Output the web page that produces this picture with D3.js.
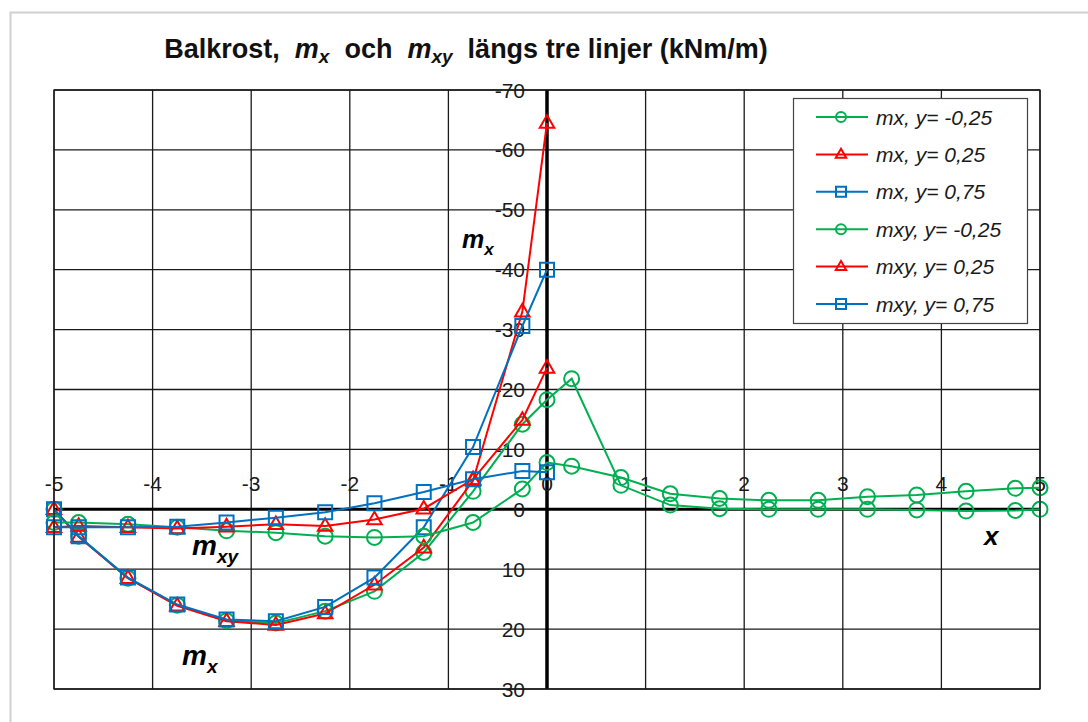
<!DOCTYPE html>
<html>
<head>
<meta charset="utf-8">
<script src="https://cdn.jsdelivr.net/npm/d3@7"></script>
<style>
  html, body { margin: 0; padding: 0; background: #fff; }
  svg { display: block; }
</style>
</head>
<body>
<svg id="chart" width="1088" height="722"></svg>
<script>
// ---- data ----
const xAll = [-5, -4.75, -4.25, -3.75, -3.25, -2.75, -2.25, -1.75, -1.25, -0.75, -0.25, 0,
              0.25, 0.75, 1.25, 1.75, 2.25, 2.75, 3.25, 3.75, 4.25, 4.75, 5];
const xLeft = [-5, -4.75, -4.25, -3.75, -3.25, -2.75, -2.25, -1.75, -1.25, -0.75, -0.25, 0];

const mxGreen  = [0, 4.5, 11.5, 16.0, 18.6, 19.0, 17.0, 13.7, 7.2, -3.0, -14.2, -18.3,
                  -21.8, -4.0, -0.7, -0.1, 0, 0, 0, 0.1, 0.3, 0.2, 0];
const mxRed    = [0, 4.6, 11.5, 16.1, 18.7, 19.3, 17.4, 12.6, 6.4, -4.8, -33.0, -64.5];
const mxBlue   = [0, 4.5, 11.4, 15.9, 18.4, 18.7, 16.3, 11.4, 3.0, -10.4, -30.6, -40.0];
const mxyGreen = [2.2, 2.2, 2.5, 3.0, 3.6, 3.9, 4.5, 4.7, 4.5, 2.2, -3.4, -7.8,
                  -7.2, -5.3, -2.6, -1.8, -1.5, -1.5, -2.1, -2.4, -3.0, -3.5, -3.6];
const mxyRed   = [3.0, 2.8, 3.0, 3.2, 2.9, 2.5, 2.8, 1.7, -0.1, -5.0, -14.9, -23.6];
const mxyBlue  = [3.0, 3.0, 3.0, 2.9, 2.2, 1.4, 0.5, -1.0, -2.9, -5.0, -6.4, -6.2];

const xTicks = [-5, -4, -3, -2, -1, 0, 1, 2, 3, 4, 5];
const yTicks = [-70, -60, -50, -40, -30, -20, -10, 0, 10, 20, 30];
const seriesNames = ["mx, y= -0,25", "mx, y= 0,25", "mx, y= 0,75",
                     "mxy, y= -0,25", "mxy, y= 0,25", "mxy, y= 0,75"];

const GREEN = "#00B050", RED = "#FF0000", BLUE = "#0070C0";
const series = [
  { name: seriesNames[0], xs: xAll,  ys: mxGreen,  color: GREEN, marker: "circle" },
  { name: seriesNames[1], xs: xLeft, ys: mxRed,    color: RED,   marker: "triangle" },
  { name: seriesNames[2], xs: xLeft, ys: mxBlue,   color: BLUE,  marker: "square" },
  { name: seriesNames[3], xs: xAll,  ys: mxyGreen, color: GREEN, marker: "circle" },
  { name: seriesNames[4], xs: xLeft, ys: mxyRed,   color: RED,   marker: "triangle" },
  { name: seriesNames[5], xs: xLeft, ys: mxyBlue,  color: BLUE,  marker: "square" }
];

// ---- layout ----
const svg = d3.select("#chart");
const L = 54, R = 1040, T = 90, B = 689;
const x = d3.scaleLinear().domain([-5, 5]).range([L, R]);
const y = d3.scaleLinear().domain([-70, 30]).range([T, B]);

// outer frame
svg.append("rect").attr("x", 10.5).attr("y", 12.5).attr("width", 1090).attr("height", 720)
  .attr("fill", "#fff").attr("stroke", "#d0d0d0").attr("stroke-width", 2);

// gridlines
const grid = svg.append("g");
grid.selectAll("line.v").data(xTicks).join("line")
  .attr("x1", d => x(d)).attr("x2", d => x(d)).attr("y1", T).attr("y2", B)
  .attr("stroke", "#1a1a1a").attr("stroke-width", 1.3);
grid.selectAll("line.h").data(yTicks).join("line")
  .attr("y1", d => y(d)).attr("y2", d => y(d)).attr("x1", L).attr("x2", R)
  .attr("stroke", "#1a1a1a").attr("stroke-width", 1.3);

// main axes (thick) through origin
svg.append("line").attr("x1", L).attr("x2", R).attr("y1", y(0)).attr("y2", y(0))
  .attr("stroke", "#000").attr("stroke-width", 3);
svg.append("line").attr("x1", x(0)).attr("x2", x(0)).attr("y1", T).attr("y2", B)
  .attr("stroke", "#000").attr("stroke-width", 3.5);

// tick labels
const tickFont = "'Liberation Sans', Arial, sans-serif";
svg.append("g").selectAll("text").data(yTicks).join("text")
  .attr("x", x(0) - 22).attr("y", d => y(d)).attr("dy", "0.36em")
  .attr("text-anchor", "end").attr("font-family", tickFont).attr("font-size", 21)
  .attr("fill", "#1a1a1a").text(d => d);
svg.append("g").selectAll("text").data(xTicks).join("text")
  .attr("x", d => x(d)).attr("y", y(0) - 18)
  .attr("text-anchor", "middle").attr("font-family", tickFont).attr("font-size", 21)
  .attr("fill", "#1a1a1a").text(d => d);

// series
function markerPath(type, s) {
  if (type === "circle") return d3.symbol(d3.symbolCircle, Math.PI * s * s / 4)();
  if (type === "square") return `M${-s/2},${-s/2}h${s}v${s}h${-s}Z`;
  const h = s * 0.9;
  return `M0,${-h*0.62}L${s*0.52},${h*0.38}L${-s*0.52},${h*0.38}Z`;
}
const line = d3.line().x(d => x(d[0])).y(d => y(d[1]));
series.forEach(s => {
  const pts = s.xs.map((xv, i) => [xv, s.ys[i]]);
  const g = svg.append("g");
  g.append("path").attr("d", line(pts)).attr("fill", "none")
    .attr("stroke", s.color).attr("stroke-width", 2);
  const size = s.marker === "circle" ? 15 : 14;
  g.selectAll("path.m").data(pts).join("path")
    .attr("transform", d => `translate(${x(d[0])},${y(d[1])})`)
    .attr("d", markerPath(s.marker, size))
    .attr("fill", "none").attr("stroke", s.color).attr("stroke-width", 2);
});

// plot border
svg.append("rect").attr("x", L).attr("y", T).attr("width", R - L).attr("height", B - T)
  .attr("fill", "none").attr("stroke", "#1a1a1a").attr("stroke-width", 1.3);

// title
const title = svg.append("text").attr("x", 466).attr("y", 58).attr("text-anchor", "middle")
  .style("white-space", "pre")
  .attr("font-family", "'Liberation Sans', Arial, sans-serif")
  .attr("font-size", 27).attr("font-weight", "bold").attr("fill", "#111");
title.append("tspan").text("Balkrost,  ");
title.append("tspan").attr("font-style", "italic").text("m");
title.append("tspan").attr("font-style", "italic").attr("font-size", 19).attr("dy", 5).text("x");
title.append("tspan").attr("dy", -5).text("  och  ");
title.append("tspan").attr("font-style", "italic").text("m");
title.append("tspan").attr("font-style", "italic").attr("font-size", 19).attr("dy", 5).text("xy");
title.append("tspan").attr("dy", -5).text("  längs tre linjer (kNm/m)");

// annotations
function annot(px, py, main, sub, fs) {
  const t = svg.append("text").attr("x", px).attr("y", py)
    .attr("font-family", "'Liberation Sans', Arial, sans-serif")
    .attr("font-weight", "bold").attr("font-style", "italic").attr("font-size", fs).attr("fill", "#000");
  t.append("tspan").text(main);
  if (sub) t.append("tspan").attr("font-size", fs * 0.68).attr("dy", fs * 0.28).text(sub);
}
annot(462, 248, "m", "x", 25);
annot(192, 555, "m", "xy", 28);
annot(182, 665, "m", "x", 28);
annot(984, 545, "x", null, 26);

// legend
const lg = svg.append("g");
lg.append("rect").attr("x", 793.5).attr("y", 98.5).attr("width", 234).attr("height", 225)
  .attr("fill", "#fff").attr("stroke", "#444").attr("stroke-width", 1.2);
series.forEach((s, i) => {
  const cy = 117 + i * 37.4;
  lg.append("line").attr("x1", 816).attr("x2", 868).attr("y1", cy).attr("y2", cy)
    .attr("stroke", s.color).attr("stroke-width", 2);
  lg.append("path").attr("transform", `translate(841,${cy})`)
    .attr("d", markerPath(s.marker, 10))
    .attr("fill", "none").attr("stroke", s.color).attr("stroke-width", 2);
  lg.append("text").attr("x", 876).attr("y", cy).attr("dy", "0.36em")
    .attr("font-family", "'Liberation Sans', Arial, sans-serif").attr("font-style", "italic")
    .attr("font-size", 21).attr("fill", "#1a1a1a").text(s.name);
});
</script>
</body>
</html>
